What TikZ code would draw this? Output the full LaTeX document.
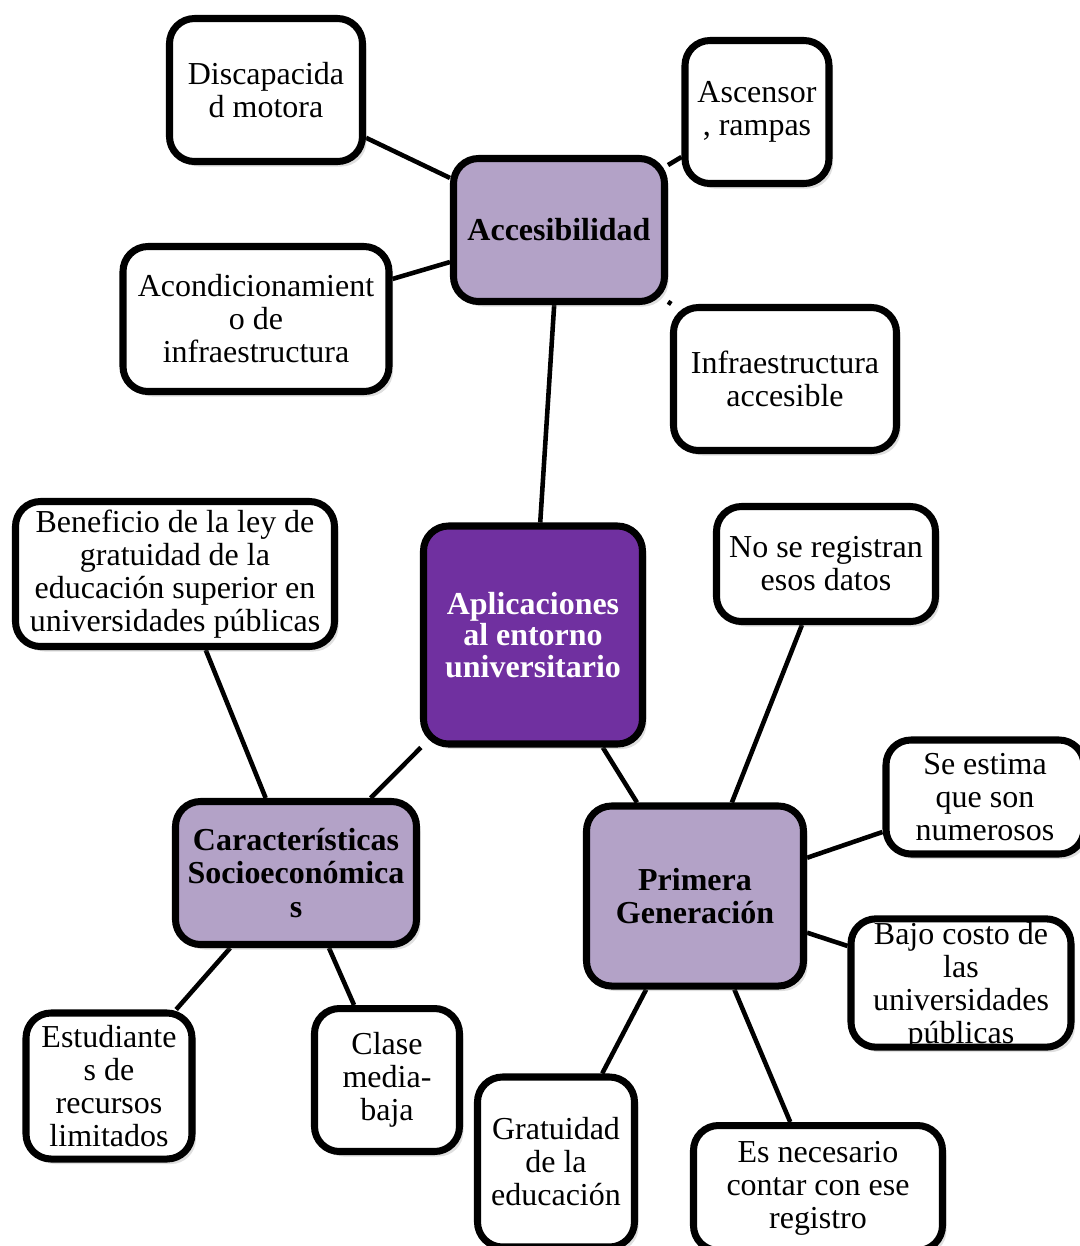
\documentclass[tikz,border=0pt]{standalone}
\usepackage{fontspec}
\setmainfont{Liberation Serif}
\usetikzlibrary{shadows,backgrounds}
\definecolor{lila}{HTML}{B3A2C7}
\definecolor{morado}{HTML}{7030A0}
\tikzset{
  caja/.style={draw=black, line width=2pt, rounded corners=0.25cm, fill=white,
    align=center, inner sep=1pt,
    drop shadow={opacity=0.25, shadow xshift=0.04cm, shadow yshift=-0.05cm},
    font=\fontsize{9.1}{9.4}\selectfont},
  tema/.style={caja, fill=lila, font=\fontsize{9.1}{9.4}\selectfont\bfseries},
  centro/.style={caja, fill=morado, text=white, font=\fontsize{9.1}{8.9}\selectfont\bfseries},
  enlace/.style={line width=1.3pt}
}
\begin{document}
\begin{tikzpicture}
\useasboundingbox (0,0) rectangle (10.8,-12.46);
% nodos
\node[centro, minimum width=2.19cm, minimum height=2.18cm] (apl) at (5.33,-6.35) {Aplicaciones\\al entorno\\universitario};
\node[tema, minimum width=2.11cm, minimum height=1.43cm] (acc) at (5.59,-2.30) {Accesibilidad};
\node[tema, minimum width=2.41cm, minimum height=1.43cm] (soc) at (2.96,-8.73) {Características\\Socioeconómica\\s};
\node[tema, minimum width=2.17cm, minimum height=1.80cm] (gen) at (6.95,-8.96) {Primera\\Generación};
\node[caja, minimum width=1.93cm, minimum height=1.43cm] (disc) at (2.66,-0.90) {Discapacida\\d motora};
\node[caja, minimum width=1.44cm, minimum height=1.43cm] (asc) at (7.57,-1.12) {Ascensor\\, rampas};
\node[caja, minimum width=2.66cm, minimum height=1.45cm] (acon) at (2.56,-3.19) {Acondicionamient\\o de\\infraestructura};
\node[caja, minimum width=2.23cm, minimum height=1.43cm] (infra) at (7.85,-3.79) {Infraestructura\\accesible};
\node[caja, minimum width=3.19cm, minimum height=1.45cm] (ley) at (1.75,-5.74) {Beneficio de la ley de\\gratuidad de la\\educación superior en\\universidades públicas};
\node[caja, minimum width=2.19cm, minimum height=1.15cm] (noreg) at (8.26,-5.64) {No se registran\\esos datos};
\node[caja, minimum width=1.98cm, minimum height=1.14cm] (estima) at (9.85,-7.97) {Se estima\\que son\\numerosos};
\node[caja, minimum width=2.20cm, minimum height=1.14cm, text depth=0pt] (costo) at (9.61,-9.83) {Bajo costo de\\las\\universidades\\públicas};
\node[caja, minimum width=1.66cm, minimum height=1.46cm] (recur) at (1.09,-10.86) {Estudiante\\s de\\recursos\\limitados};
\node[caja, minimum width=1.45cm, minimum height=1.43cm] (clase) at (3.87,-10.80) {Clase\\media-\\baja};
\node[caja, minimum width=1.57cm, minimum height=1.70cm] (grat) at (5.56,-11.62) {Gratuidad\\de la\\educación};
\node[caja, minimum width=2.49cm, minimum height=1.25cm] (regis) at (8.18,-11.88) {Es necesario\\contar con ese\\registro};
% enlaces
\begin{scope}[on background layer]
\draw[enlace] (apl) -- (acc);
\draw[enlace] (apl) -- (soc);
\draw[enlace] (apl) -- (gen);
\draw[enlace] (acc) -- (disc);
\draw[enlace] (acc) -- (asc);
\draw[enlace] (acc) -- (acon);
\draw[enlace] (acc) -- (infra);
\draw[enlace] (soc) -- (ley);
\draw[enlace] (soc) -- (recur);
\draw[enlace] (soc) -- (clase);
\draw[enlace] (gen) -- (noreg);
\draw[enlace] (gen) -- (estima);
\draw[enlace] (gen) -- (costo);
\draw[enlace] (gen) -- (grat);
\draw[enlace] (gen) -- (regis);
\end{scope}
\end{tikzpicture}
\end{document}
